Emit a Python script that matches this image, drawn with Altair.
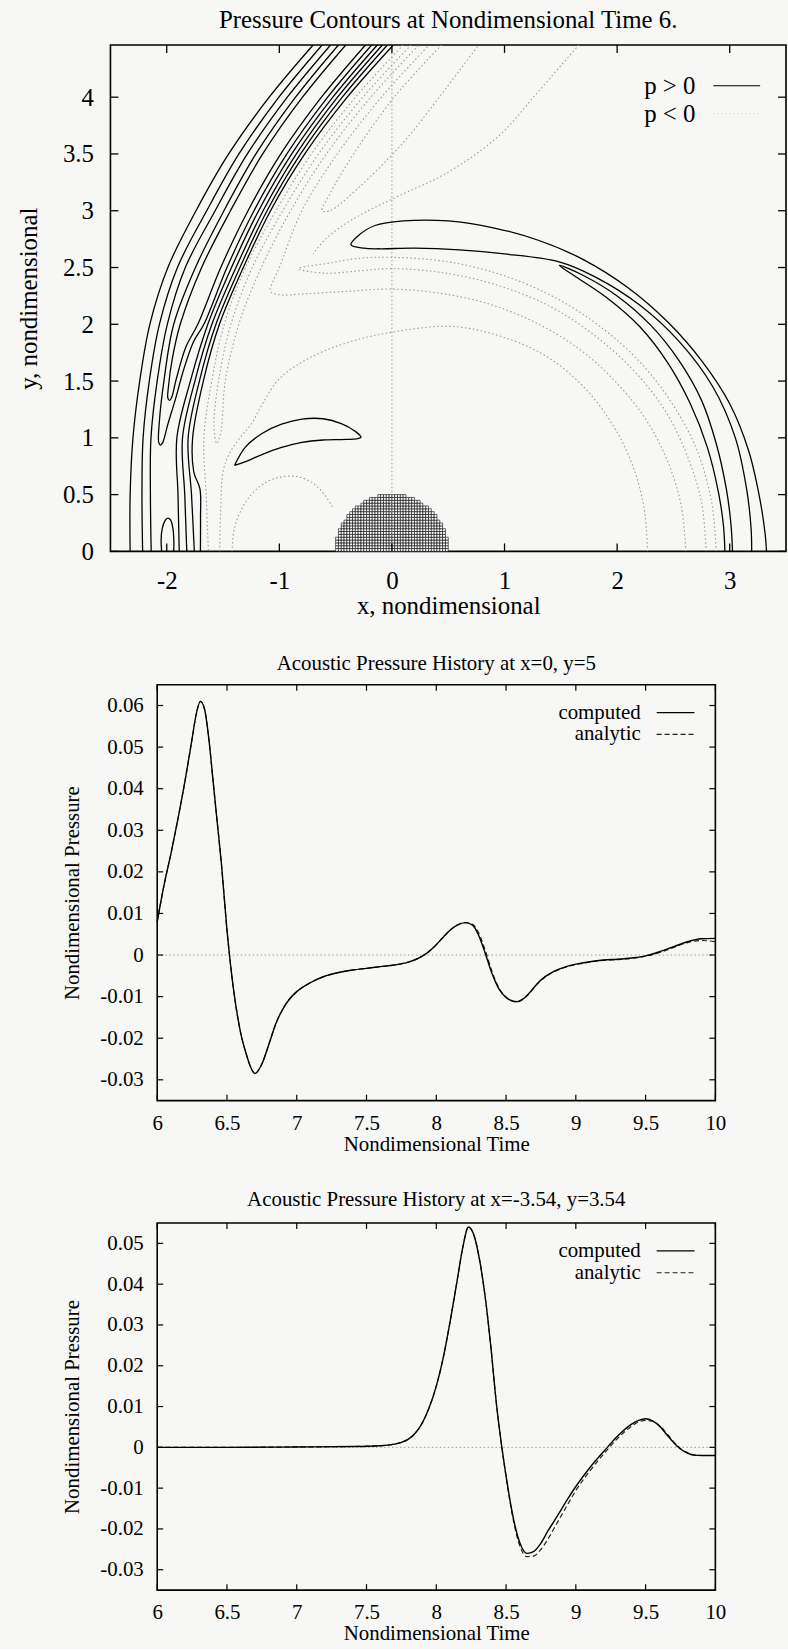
import altair as alt
import pandas as pd

FONT = "Liberation Serif"
BG = "#f7f7f5"
GREY = "#9a9a9a"

# ================= Top panel: pressure contours at t = 6 =================
X_TICKS = [-2, -1, 0, 1, 2, 3]
Y_TICKS = [0, 0.5, 1, 1.5, 2, 2.5, 3, 3.5, 4]
X_DOMAIN = [-2.5, 3.5]
Y_DOMAIN = [0, 4.46]

# ---- positive-pressure contours (solid) ----
O1 = [(-2.325, 0), (-2.325, 0.5), (-2.30, 1.0), (-2.24, 1.5), (-2.15, 2.0), (-1.99, 2.5),
      (-1.74, 3.0), (-1.45, 3.5), (-1.09, 4.0), (-0.70, 4.46)]
O2 = [(-2.214, 0), (-2.22, 0.5), (-2.21, 1.0), (-2.155, 1.5), (-2.065, 2.0), (-1.905, 2.5),
      (-1.645, 3.0), (-1.359, 3.5), (-1.004, 4.0), (-0.62, 4.46)]
O3 = [(-2.138, 0), (-2.145, 0.5), (-2.14, 1.0), (-2.085, 1.5), (-1.995, 2.0), (-1.835, 2.5),
      (-1.57, 3.0), (-1.284, 3.5), (-0.929, 4.0), (-0.545, 4.46)]
U1 = [(-0.475, 4.46), (-0.856, 4.0), (-1.208, 3.5), (-1.492, 3.0), (-1.745, 2.5), (-1.938, 2.0),
      (-2.025, 1.5), (-2.065, 1.15), (-2.071, 0.96), (-2.055, 0.935), (-2.035, 0.96), (-1.99, 1.12),
      (-1.92, 1.35), (-1.85, 1.6), (-1.76, 1.85), (-1.67, 2.0), (-1.465, 2.5), (-1.225, 3.0),
      (-0.933, 3.5), (-0.571, 4.0), (-0.18, 4.46)]
U2 = [(-0.41, 4.46), (-0.794, 4.0), (-1.148, 3.5), (-1.434, 3.0), (-1.69, 2.5), (-1.88, 2.0),
      (-1.95, 1.7), (-1.985, 1.45), (-1.99, 1.35), (-1.975, 1.33), (-1.955, 1.36), (-1.92, 1.5),
      (-1.83, 1.8), (-1.724, 2.0), (-1.52, 2.5), (-1.278, 3.0), (-0.987, 3.5), (-0.626, 4.0),
      (-0.235, 4.46)]
I3 = [(-0.13, 4.46), (-0.525, 4.0), (-0.89, 3.5), (-1.184, 3.0), (-1.425, 2.5), (-1.635, 2.0),
      (-1.79, 1.5), (-1.91, 1.0), (-1.90, 0.5), (-1.889, 0)]
I2 = [(-0.085, 4.46), (-0.483, 4.0), (-0.849, 3.5), (-1.144, 3.0), (-1.385, 2.5), (-1.599, 2.0),
      (-1.75, 1.5), (-1.86, 1.0), (-1.84, 0.5), (-1.822, 0)]
I1 = [(-0.04, 4.46), (-0.441, 4.0), (-0.811, 3.5), (-1.109, 3.0), (-1.35, 2.5), (-1.563, 2.0),
      (-1.71, 1.5), (-1.81, 1.0), (-1.78, 0.5), (-1.755, 0)]
IX = [(0.013, 4.46), (-0.397, 4.0), (-0.774, 3.5), (-1.078, 3.0), (-1.32, 2.5), (-1.532, 2.0),
      (-1.675, 1.5), (-1.77, 1.0), (-1.76, 0.7), (-1.705, 0.55), (-1.70, 0.3), (-1.701, 0)]
ARCH = [(-2.045, 0), (-2.05, 0.1), (-2.04, 0.2), (-2.015, 0.27), (-1.99, 0.293), (-1.965, 0.275),
        (-1.945, 0.2), (-1.937, 0.1), (-1.938, 0)]
LOOP = [(-1.398, 0.757), (-1.30, 0.92), (-1.15, 1.04), (-0.98, 1.12), (-0.80, 1.165), (-0.61, 1.168),
        (-0.45, 1.125), (-0.33, 1.06), (-0.275, 1.006), (-0.32, 0.99), (-0.45, 0.985), (-0.61, 0.981),
        (-0.80, 0.96), (-0.98, 0.915), (-1.15, 0.855), (-1.30, 0.79), (-1.398, 0.757)]
CRES_BIG = [(3.327, 0), (3.315, 0.15), (3.27, 0.45), (3.17, 0.88), (3.0, 1.3), (2.75, 1.68),
            (2.45, 2.02), (2.1, 2.32), (1.7, 2.57), (1.3, 2.74), (0.9, 2.85), (0.5, 2.91),
            (0.1, 2.91), (-0.15, 2.87), (-0.3, 2.78), (-0.364, 2.70), (-0.25, 2.67), (-0.1, 2.665),
            (0.2, 2.67), (0.6, 2.655), (1.0, 2.62), (1.485, 2.55), (1.8, 2.42), (2.2, 2.17),
            (2.55, 1.85), (2.85, 1.45), (3.05, 1.0), (3.15, 0.55), (3.19, 0.2), (3.195, 0)]
CRES_SMALL = [(3.025, 0), (3.01, 0.25), (2.97, 0.55), (2.88, 0.95), (2.75, 1.33), (2.55, 1.68),
              (2.3, 1.99), (2.0, 2.25), (1.7, 2.43), (1.485, 2.52), (1.6, 2.44), (1.9, 2.24),
              (2.2, 1.98), (2.45, 1.66), (2.65, 1.3), (2.8, 0.92), (2.9, 0.52), (2.945, 0.22),
              (2.957, 0)]

# ---- negative-pressure contours (dotted) ----
N1 = [(0.10, 4.46), (-0.324, 4.0), (-0.715, 3.5), (-1.03, 3.0), (-1.30, 2.5), (-1.49, 2.0),
      (-1.60, 1.5), (-1.67, 1.0), (-1.65, 0.5), (-1.63, 0)]
N23 = [(0.17, 4.46), (-0.258, 4.0), (-0.652, 3.5), (-0.97, 3.0), (-1.24, 2.5), (-1.43, 2.0),
       (-1.54, 1.5), (-1.58, 1.1), (-1.555, 0.95), (-1.52, 1.05), (-1.48, 1.5), (-1.36, 2.0),
       (-1.16, 2.5), (-0.90, 3.0), (-0.582, 3.5), (-0.188, 4.0), (0.24, 4.46)]
R2N4 = [(2.61, 0), (2.57, 0.40), (2.45, 0.79), (2.26, 1.155), (2.0, 1.48), (1.68, 1.77),
        (1.305, 2.0), (0.89, 2.17), (0.45, 2.27), (0.0, 2.31), (-0.4, 2.29), (-0.75, 2.27),
        (-1.0, 2.26), (-1.08, 2.29), (-1.05, 2.39), (-1.0, 2.5), (-0.80, 3.0), (-0.485, 3.5),
        (-0.094, 4.0), (0.33, 4.46)]
R34 = [(2.88, 0), (2.84, 0.43), (2.71, 0.89), (2.49, 1.30), (2.21, 1.66), (1.85, 1.98),
       (1.44, 2.24), (0.99, 2.43), (0.5, 2.55), (0.0, 2.59), (-0.3, 2.58), (-0.55, 2.54),
       (-0.83, 2.49), (-0.6, 2.45), (-0.3, 2.47), (0.0, 2.49), (0.48, 2.45), (0.95, 2.34),
       (1.40, 2.16), (1.79, 1.91), (2.14, 1.60), (2.42, 1.25), (2.62, 0.85), (2.75, 0.43), (2.79, 0)]
R1 = [(2.27, 0), (2.24, 0.38), (2.14, 0.75), (1.97, 1.1), (1.73, 1.42), (1.43, 1.68), (1.07, 1.86),
      (0.55, 1.98), (0.0, 1.93), (-0.39, 1.84), (-0.74, 1.70), (-1.0, 1.52), (-1.15, 1.3),
      (-1.25, 1.12), (-1.35, 1.0), (-1.45, 0.85), (-1.5, 0.7), (-1.52, 0.4), (-1.53, 0)]
D_LOW = [(-1.42, 0), (-1.40, 0.2), (-1.32, 0.40), (-1.2, 0.55), (-1.05, 0.64), (-0.85, 0.66),
         (-0.70, 0.60), (-0.6, 0.50), (-0.52, 0.38)]
NL = [(1.66, 4.46), (1.3, 4.05), (0.95, 3.66), (0.5, 3.34), (0.06, 3.13), (-0.25, 2.98),
      (-0.45, 2.86), (-0.6, 2.74), (-0.7, 2.62)]
N56 = [(0.44, 4.46), (0.02, 4.0), (-0.34, 3.5), (-0.55, 3.15), (-0.62, 3.0), (-0.55, 3.0),
       (-0.3, 3.2), (0.1, 3.6), (0.42, 4.0), (0.77, 4.46)]

POS_LINES = [O1, O2, O3, U1, U2, I3, I2, I1, IX, ARCH, LOOP, CRES_BIG, CRES_SMALL]
NEG_LINES = [N1, N23, R2N4, R34, R1, D_LOW, NL, N56]

# ---- cylinder body: mesh cells (column heights in cells) ----
CYL_X0 = -0.5
CYL_CELL = 0.025
CYL_ROWS = [5, 8, 10, 11, 13, 14, 15, 16, 16, 17, 18, 18, 19, 19, 19, 20, 20, 20, 20, 20,
            20, 20, 20, 20, 20, 19, 19, 19, 18, 18, 17, 16, 16, 15, 14, 13, 11, 10, 8, 5]

LEGEND_TOP = ["p > 0", "p < 0"]

# ================= Lower panels: pressure histories =================
T_TICKS = [6, 6.5, 7, 7.5, 8, 8.5, 9, 9.5, 10]
T_DOMAIN = [6, 10]

T2 = [6.00, 6.05, 6.10, 6.15, 6.20, 6.25, 6.28, 6.31, 6.34, 6.37, 6.40, 6.43, 6.46, 6.50,
      6.55, 6.60, 6.64, 6.67, 6.70, 6.75, 6.80, 6.85, 6.90, 6.95, 7.00, 7.10, 7.20, 7.30,
      7.40, 7.50, 7.60, 7.70, 7.80, 7.87, 7.93, 8.00, 8.05, 8.10, 8.15, 8.21, 8.26, 8.30,
      8.35, 8.40, 8.45, 8.50, 8.55, 8.58, 8.62, 8.67, 8.72, 8.78, 8.85, 8.92, 9.00, 9.10,
      9.20, 9.30, 9.40, 9.50, 9.60, 9.70, 9.80, 9.90, 10.0]
P2_COMPUTED = [0.0080, 0.0170, 0.0246, 0.0330, 0.0420, 0.0520, 0.0580, 0.0610, 0.0590, 0.0520,
               0.0420, 0.0320, 0.0220, 0.0060, -0.0090, -0.0190, -0.0240, -0.0270, -0.0285,
               -0.0262, -0.0215, -0.0165, -0.0130, -0.0105, -0.0088, -0.0066, -0.0051, -0.0042,
               -0.0036, -0.0032, -0.0028, -0.0024, -0.0017, -0.0008, 0.0004, 0.0025, 0.0043,
               0.0060, 0.0072, 0.0078, 0.0072, 0.0050, 0.0005, -0.0045, -0.0082, -0.0102,
               -0.0111, -0.0112, -0.0106, -0.0090, -0.0070, -0.0052, -0.0038, -0.0029, -0.0022,
               -0.0016, -0.0012, -0.0010, -0.0007, -0.0002, 0.0008, 0.0020, 0.0032, 0.0039, 0.0040]
P2_ANALYTIC = [0.0080, 0.0170, 0.0246, 0.0330, 0.0420, 0.0520, 0.0580, 0.0610, 0.0590, 0.0520,
               0.0420, 0.0320, 0.0220, 0.0060, -0.0090, -0.0190, -0.0240, -0.0270, -0.0285,
               -0.0262, -0.0215, -0.0165, -0.0130, -0.0105, -0.0088, -0.0066, -0.0051, -0.0042,
               -0.0036, -0.0032, -0.0028, -0.0024, -0.0017, -0.0008, 0.0004, 0.0025, 0.0043,
               0.0060, 0.0072, 0.0078, 0.0074, 0.0056, 0.0012, -0.0040, -0.0080, -0.0101,
               -0.0111, -0.0113, -0.0107, -0.0091, -0.0071, -0.0053, -0.0039, -0.0030, -0.0023,
               -0.0017, -0.0013, -0.0011, -0.0008, -0.0003, 0.0006, 0.0018, 0.0030, 0.0035, 0.0032]
Y2_TICKS = [-0.03, -0.02, -0.01, 0, 0.01, 0.02, 0.03, 0.04, 0.05, 0.06]
Y2_DOMAIN = [-0.035, 0.065]

T3 = [6.00, 6.50, 7.00, 7.40, 7.60, 7.70, 7.75, 7.80, 7.85, 7.90, 7.95, 8.00, 8.05, 8.10,
      8.15, 8.19, 8.23, 8.27, 8.31, 8.35, 8.39, 8.43, 8.47, 8.50, 8.55, 8.60, 8.65, 8.70,
      8.75, 8.80, 8.85, 8.90, 8.95, 9.00, 9.10, 9.20, 9.30, 9.40, 9.45, 9.50, 9.55, 9.60,
      9.65, 9.70, 9.75, 9.80, 9.85, 9.90, 10.0]
P3_COMPUTED = [0.0, 0.0, 0.0001, 0.0002, 0.0004, 0.0008, 0.0012, 0.0020, 0.0035, 0.0060, 0.0098,
               0.0150, 0.0220, 0.0310, 0.0410, 0.0490, 0.0540, 0.0520, 0.0460, 0.0370, 0.0250,
               0.0110, 0.0000, -0.0070, -0.0170, -0.0235, -0.0260, -0.0255, -0.0235, -0.0205,
               -0.0178, -0.0150, -0.0122, -0.0096, -0.0050, -0.0010, 0.0028, 0.0057, 0.0066,
               0.0070, 0.0065, 0.0052, 0.0032, 0.0012, -0.0004, -0.0014, -0.0019, -0.0020, -0.0020]
P3_ANALYTIC = [0.0, 0.0, 0.0001, 0.0002, 0.0004, 0.0008, 0.0012, 0.0020, 0.0035, 0.0060, 0.0098,
               0.0150, 0.0220, 0.0310, 0.0410, 0.0490, 0.0540, 0.0520, 0.0460, 0.0370, 0.0250,
               0.0110, 0.0000, -0.0072, -0.0175, -0.0243, -0.0268, -0.0266, -0.0250, -0.0225,
               -0.0195, -0.0165, -0.0135, -0.0106, -0.0058, -0.0016, 0.0022, 0.0052, 0.0062,
               0.0066, 0.0064, 0.0053, 0.0035, 0.0014, -0.0003, -0.0013, -0.0019, -0.0020, -0.0020]
Y3_TICKS = [-0.03, -0.02, -0.01, 0, 0.01, 0.02, 0.03, 0.04, 0.05]
Y3_DOMAIN = [-0.035, 0.055]

LEGEND_HIST = ["computed", "analytic"]

TITLE1 = "Pressure Contours at Nondimensional Time 6."
TITLE2 = "Acoustic Pressure History at x=0, y=5"
TITLE3 = "Acoustic Pressure History at x=-3.54, y=3.54"

# ================= build tables =================
def contour_table(lines, prefix):
    rows = []
    for k, pts in enumerate(lines):
        for i, (x, y) in enumerate(pts):
            rows.append({"cid": f"{prefix}{k}", "i": i, "x": x, "y": y})
    return pd.DataFrame(rows)


df_pos = contour_table(POS_LINES, "p")
df_neg = contour_table(NEG_LINES, "n")
cells = []
for ci, n in enumerate(CYL_ROWS):
    for j in range(n):
        cells.append({"x": CYL_X0 + ci * CYL_CELL, "x2": CYL_X0 + (ci + 1) * CYL_CELL,
                      "y": j * CYL_CELL, "y2": (j + 1) * CYL_CELL})
df_cells = pd.DataFrame(cells)
one = pd.DataFrame({"a": [0]})

FRAME = alt.ViewBackground(stroke="black", strokeWidth=1.6)


def num_expr(fmt):
    return f"(datum.value < 0 ? '-' : '') + format(abs(datum.value), '{fmt}')"


# ---------------- top chart ----------------
W1, H1 = 679, 509
FS1 = 25
TK1 = 8
xs1 = alt.Scale(domain=X_DOMAIN, nice=False, zero=False)
ys1 = alt.Scale(domain=Y_DOMAIN, nice=False, zero=False)
xax1 = alt.Axis(values=X_TICKS, title="x, nondimensional", labelExpr=num_expr("~g"),
                ticks=False, domain=False, grid=False, labelFont=FONT, labelFontSize=FS1,
                labelColor="black", titleFont=FONT, titleFontSize=FS1, titleFontWeight="normal",
                titleColor="black", labelPadding=17, titlePadding=0, labelFlush=False)
yax1 = alt.Axis(values=Y_TICKS, title="y, nondimensional", labelExpr=num_expr("~g"),
                ticks=False, domain=False, grid=False, labelFont=FONT, labelFontSize=FS1,
                labelColor="black", titleFont=FONT, titleFontSize=FS1, titleFontWeight="normal",
                titleColor="black", labelPadding=17, titlePadding=21, labelFlush=False)


def X1(f):
    return alt.X(f"{f}:Q", scale=xs1, axis=xax1)


def Y1(f):
    return alt.Y(f"{f}:Q", scale=ys1, axis=yax1)


cyl = alt.Chart(df_cells).mark_rect(fill="white", stroke="black", strokeWidth=0.6).encode(
    x=X1("x"), x2="x2", y=Y1("y"), y2="y2")
zero_v = alt.Chart(pd.DataFrame({"x": [0]})).mark_rule(
    color=GREY, strokeWidth=1, strokeDash=[1.5, 2.5]).encode(
    x=X1("x"), y=alt.value(0), y2=alt.value(H1))
neg = alt.Chart(df_neg).mark_line(color=GREY, strokeWidth=1.1, strokeDash=[1.5, 2.5],
                                  interpolate="catmull-rom", clip=True).encode(
    x=X1("x"), y=Y1("y"), detail="cid:N", order="i:Q")
pos = alt.Chart(df_pos).mark_line(color="black", strokeWidth=1.3,
                                  interpolate="catmull-rom", clip=True).encode(
    x=X1("x"), y=Y1("y"), detail="cid:N", order="i:Q")
dfx1 = pd.DataFrame({"x": X_TICKS})
dfy1 = pd.DataFrame({"y": Y_TICKS})
tb1 = alt.Chart(dfx1).mark_rule(color="black", strokeWidth=1.3).encode(
    x=X1("x"), y=alt.value(H1), y2=alt.value(H1 - TK1))
tt1 = alt.Chart(dfx1).mark_rule(color="black", strokeWidth=1.3).encode(
    x=X1("x"), y=alt.value(0), y2=alt.value(TK1))
tl1 = alt.Chart(dfy1).mark_rule(color="black", strokeWidth=1.3).encode(
    y=Y1("y"), x=alt.value(0), x2=alt.value(TK1))
tr1 = alt.Chart(dfy1).mark_rule(color="black", strokeWidth=1.3).encode(
    y=Y1("y"), x=alt.value(W1), x2=alt.value(W1 - TK1))
lg1a = alt.Chart(one).mark_text(text=LEGEND_TOP[0], font=FONT, fontSize=FS1, align="right",
                                baseline="middle", color="black").encode(
    x=alt.value(588), y=alt.value(41))
lg1b = alt.Chart(one).mark_text(text=LEGEND_TOP[1], font=FONT, fontSize=FS1, align="right",
                                baseline="middle", color="black").encode(
    x=alt.value(588), y=alt.value(69))
lg1r = alt.Chart(one).mark_rule(color="black", strokeWidth=1.2).encode(
    x=alt.value(606), x2=alt.value(653), y=alt.value(41))
lg1d = alt.Chart(one).mark_rule(color="#d8d8d8", strokeWidth=1, strokeDash=[1.5, 2.5]).encode(
    x=alt.value(606), x2=alt.value(653), y=alt.value(69))

chart1 = alt.layer(cyl, zero_v, neg, pos, tb1, tt1, tl1, tr1, lg1a, lg1b, lg1r, lg1d).properties(
    width=W1, height=H1, view=FRAME,
    title=alt.TitleParams(TITLE1, font=FONT, fontSize=FS1, fontWeight="normal", color="black",
                          anchor="middle", frame="group", offset=11))

# ---------------- history charts ----------------
W2 = 561
FS2 = 21
TK2 = 6


def history(t, comp, anal, yticks, ydomain, H, title, toff):
    xs = alt.Scale(domain=T_DOMAIN, nice=False, zero=False)
    ys = alt.Scale(domain=ydomain, nice=False, zero=False)
    xax = alt.Axis(values=T_TICKS, title="Nondimensional Time", labelExpr=num_expr("~g"),
                   ticks=False, domain=False, grid=False, labelFont=FONT, labelFontSize=FS2,
                   labelColor="black", titleFont=FONT, titleFontSize=FS2,
                   titleFontWeight="normal", titleColor="black", labelPadding=12,
                   titlePadding=0, labelFlush=False)
    yax = alt.Axis(values=yticks, title="Nondimensional Pressure",
                   labelExpr="datum.value == 0 ? '0' : " + num_expr(".2f"),
                   ticks=False, domain=False, grid=False, labelFont=FONT, labelFontSize=FS2,
                   labelColor="black", titleFont=FONT, titleFontSize=FS2,
                   titleFontWeight="normal", titleColor="black", labelPadding=14,
                   titlePadding=17, labelFlush=False)

    def X(f):
        return alt.X(f"{f}:Q", scale=xs, axis=xax)

    def Y(f):
        return alt.Y(f"{f}:Q", scale=ys, axis=yax)

    dfc = pd.DataFrame({"t": t, "p": comp})
    dfa = pd.DataFrame({"t": t, "p": anal})
    zero = alt.Chart(pd.DataFrame({"p": [0]})).mark_rule(
        color=GREY, strokeWidth=1, strokeDash=[1.5, 2.5]).encode(
        y=Y("p"), x=alt.value(0), x2=alt.value(W2))
    lc = alt.Chart(dfc).mark_line(color="black", strokeWidth=1.4, interpolate="monotone").encode(
        x=X("t"), y=Y("p"))
    la = alt.Chart(dfa).mark_line(color="#222222", strokeWidth=1.2, strokeDash=[5, 3],
                                  interpolate="monotone").encode(x=X("t"), y=Y("p"))
    dfx = pd.DataFrame({"t": T_TICKS})
    dfy = pd.DataFrame({"p": yticks})
    tb = alt.Chart(dfx).mark_rule(color="black", strokeWidth=1.2).encode(
        x=X("t"), y=alt.value(H), y2=alt.value(H - TK2))
    tt = alt.Chart(dfx).mark_rule(color="black", strokeWidth=1.2).encode(
        x=X("t"), y=alt.value(0), y2=alt.value(TK2))
    tl = alt.Chart(dfy).mark_rule(color="black", strokeWidth=1.2).encode(
        y=Y("p"), x=alt.value(0), x2=alt.value(TK2))
    tr = alt.Chart(dfy).mark_rule(color="black", strokeWidth=1.2).encode(
        y=Y("p"), x=alt.value(W2), x2=alt.value(W2 - TK2))
    ta = alt.Chart(one).mark_text(text=LEGEND_HIST[0], font=FONT, fontSize=FS2, align="right",
                                  baseline="middle", color="black").encode(
        x=alt.value(486), y=alt.value(28))
    tb2 = alt.Chart(one).mark_text(text=LEGEND_HIST[1], font=FONT, fontSize=FS2, align="right",
                                   baseline="middle", color="black").encode(
        x=alt.value(486), y=alt.value(50))
    ra = alt.Chart(one).mark_rule(color="black", strokeWidth=1.2).encode(
        x=alt.value(502), x2=alt.value(540), y=alt.value(28))
    rb = alt.Chart(one).mark_rule(color="#222222", strokeWidth=1.2, strokeDash=[5, 3]).encode(
        x=alt.value(502), x2=alt.value(540), y=alt.value(50))
    return alt.layer(zero, la, lc, tb, tt, tl, tr, ta, tb2, ra, rb).properties(
        width=W2, height=H, view=FRAME,
        title=alt.TitleParams(title, font=FONT, fontSize=FS2, fontWeight="normal", color="black",
                              anchor="middle", frame="group", offset=toff))


chart2 = history(T2, P2_COMPUTED, P2_ANALYTIC, Y2_TICKS, Y2_DOMAIN, 418, TITLE2, 10)
chart3 = history(T3, P3_COMPUTED, P3_ANALYTIC, Y3_TICKS, Y3_DOMAIN, 369, TITLE3, 12)


def spacer(w, h):
    return alt.Chart(one).mark_point(opacity=0).encode(
        x=alt.value(0), y=alt.value(0)).properties(width=w, height=h)


row2 = alt.hconcat(spacer(47, 10), chart2, spacing=0, bounds="flush")
row3 = alt.hconcat(spacer(47, 10), chart3, spacing=0, bounds="flush")

chart = alt.vconcat(chart1, row2, row3, spacing=33, bounds="full").properties(
    background=BG,
    padding={"left": 15, "top": 3, "right": 0, "bottom": 0},
).configure_view(stroke="transparent")

chart.save("out.html", embed_options={"renderer": "svg", "actions": False})
